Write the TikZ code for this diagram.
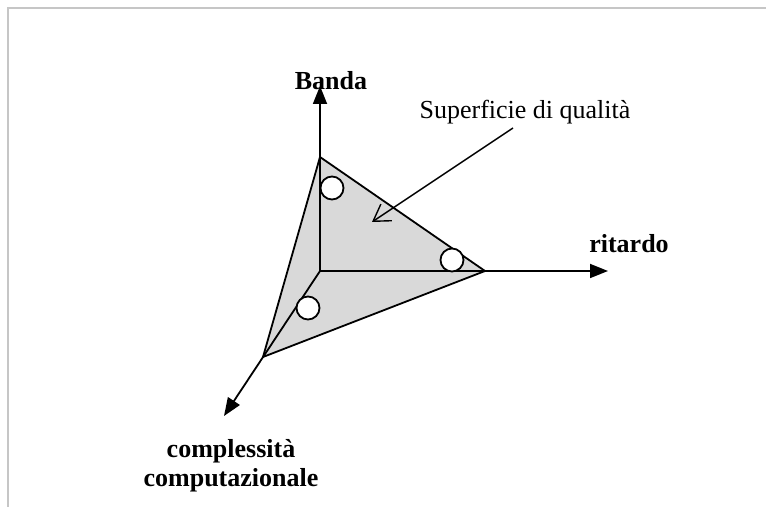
\documentclass[tikz,border=0pt]{standalone}
\usepackage{fontspec}
\setmainfont{Liberation Serif}
\usetikzlibrary{arrows.meta}

\begin{document}
\begin{tikzpicture}[x=0.5pt,y=-0.5pt,
  axis/.style={-{Triangle[length=9pt,width=7pt]}, line width=0.9pt},
  pointer/.style={-{Straight Barb[length=8pt,width=10pt]}, line width=0.7pt},
  lbl/.style={font=\fontsize{13}{14.5}\selectfont\bfseries, align=center, inner sep=0pt},
  note/.style={font=\fontsize{13}{15}\selectfont, inner sep=0pt},
  point/.style={circle, draw, line width=0.9pt, fill=white,
    minimum size=11.5pt, inner sep=0pt},
  surf/.style={draw, line width=0.9pt, fill=gray!30, line join=round}
]
\useasboundingbox (0,0) rectangle (766,507);

% frame
\draw[gray!45, line width=1.2pt] (8,507) -- (8,8) -- (766,8);

% origin and triangle corners
\coordinate (O) at (320,271);
\coordinate (top) at (320,157);
\coordinate (right) at (485,271);
\coordinate (left) at (263,357);

% quality surface
\draw[surf] (top) -- (right) -- (left) -- cycle;

% axes
\coordinate (banda) at (320,86);
\coordinate (ritardo) at (608,271);
\coordinate (compl) at (224,416);
\draw[axis] (O) -- (banda);
\draw[axis] (O) -- (ritardo);
\draw[axis] (O) -- (compl);

% points on the surface
\node[point] (p1) at (332,188) {};
\node[point] (p2) at (452,260) {};
\node[point] (p3) at (308,308) {};

% labels
\node[lbl, anchor=base] (lBanda) at (331,90) {Banda};
\node[lbl, anchor=base] (lRit) at (629,253) {ritardo};
\node[lbl, anchor=north] (lComp) at (231,439)
  {complessità\\computazionale};
\node[note, anchor=base] (lSurf) at (525,119) {Superficie di qualità};

% pointer to surface
\coordinate (sStart) at (513,128);
\coordinate (sEnd) at (372,222);
\draw[pointer] (sStart) -- (sEnd);

\end{tikzpicture}
\end{document}
